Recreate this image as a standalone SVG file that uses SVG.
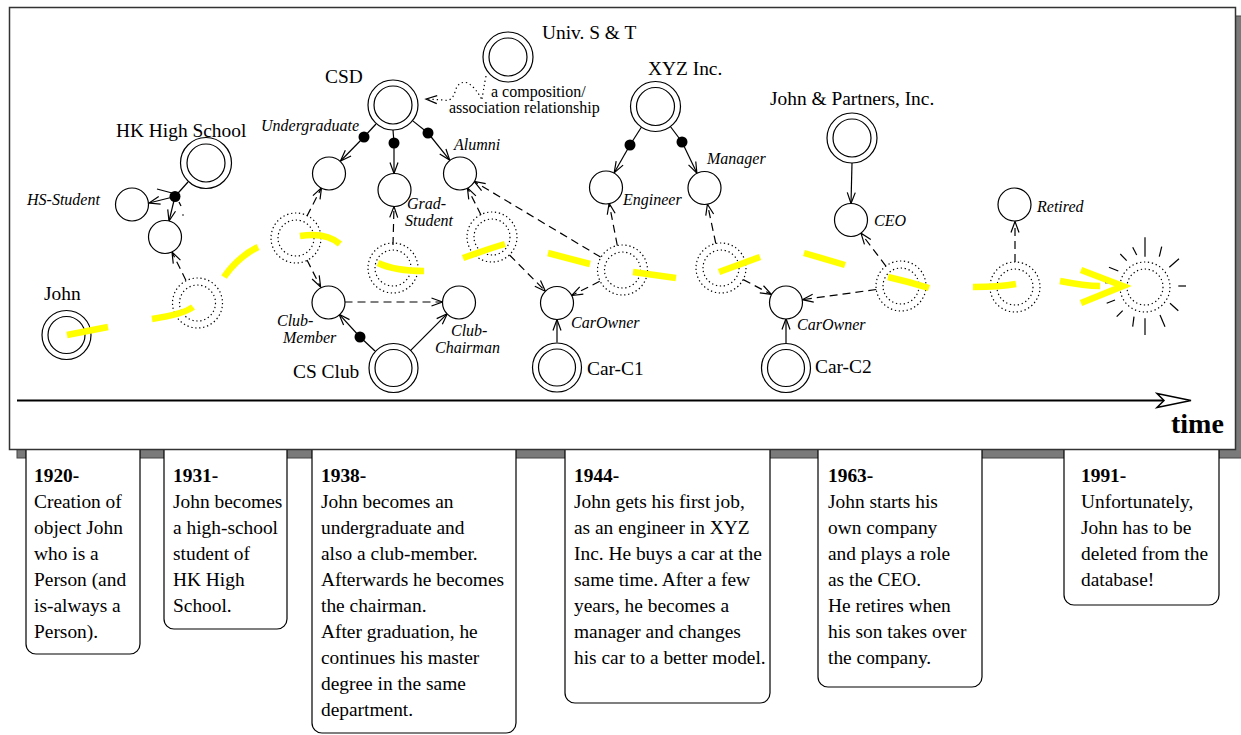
<svg xmlns="http://www.w3.org/2000/svg" width="1241" height="735" viewBox="0 0 1241 735">
<style>
.t{font-family:"Liberation Serif","Times New Roman",serif;font-size:19.4px;fill:#000}
.i{font-family:"Liberation Serif","Times New Roman",serif;font-size:16px;font-style:italic;fill:#000}
.s{font-family:"Liberation Serif","Times New Roman",serif;font-size:16px;fill:#000}
.b{font-weight:bold}
.obj circle{fill:#fff;stroke:#000;stroke-width:1.2}
.role circle{fill:#fff;stroke:#000;stroke-width:1.2}
.inst circle{fill:none;stroke:#000;stroke-width:1.2;stroke-dasharray:1.3 2.7}
.dot{fill:#000}
.ln{stroke:#000;stroke-width:1.2;fill:none}
.da{stroke:#000;stroke-width:1.2;fill:none;stroke-dasharray:8 5}
.ar{marker-end:url(#a)}
.ye{stroke:#ffff00;stroke-width:6.5;fill:none;stroke-linecap:butt}
.card{fill:#fff;stroke:#000;stroke-width:1.2}
</style>
<defs>
<marker id="a" markerUnits="userSpaceOnUse" viewBox="0 0 12 9" refX="11" refY="4.5" markerWidth="12" markerHeight="9" orient="auto" overflow="visible">
<path d="M0,0.5 L11,4.5 L0,8.5" fill="none" stroke="#000" stroke-width="1.2" stroke-dasharray="none"/>
</marker>
</defs>

<!-- frame shadow -->
<rect x="17" y="16" width="1230" height="442" fill="#7a7a7a" stroke="#444" stroke-width="1"/>

<!-- cards -->
<g id="cards">
<path class="card" d="M26,440 V644 A10,10 0 0 0 36,654 H130 A10,10 0 0 0 140,644 V440"/>
<path class="card" d="M164,440 V619 A10,10 0 0 0 174,629 H277 A10,10 0 0 0 287,619 V440"/>
<path class="card" d="M312,440 V723 A10,10 0 0 0 322,733 H506 A10,10 0 0 0 516,723 V440"/>
<path class="card" d="M565,440 V693 A10,10 0 0 0 575,703 H760 A10,10 0 0 0 770,693 V440"/>
<path class="card" d="M818,440 V677 A10,10 0 0 0 828,687 H972 A10,10 0 0 0 982,677 V440"/>
<path class="card" d="M1064,440 V595 A10,10 0 0 0 1074,605 H1209 A10,10 0 0 0 1219,595 V440"/>
</g>

<!-- frame -->
<rect x="9.5" y="7.5" width="1226" height="442" fill="#fff" stroke="#333" stroke-width="1.5"/>

<!-- card texts -->
<g id="card1" class="t">
<text x="34" y="481.7" class="t b">1920-</text>
<text x="34" y="507.7">Creation of</text>
<text x="34" y="533.7">object John</text>
<text x="34" y="559.7">who is a</text>
<text x="34" y="585.7">Person (and</text>
<text x="34" y="611.7">is-always a</text>
<text x="34" y="637.7">Person).</text>
</g>
<g id="card2" class="t">
<text x="173" y="481.7" class="t b">1931-</text>
<text x="173" y="507.7">John becomes</text>
<text x="173" y="533.7">a high-school</text>
<text x="173" y="559.7">student of</text>
<text x="173" y="585.7">HK High</text>
<text x="173" y="611.7">School.</text>
</g>
<g id="card3" class="t">
<text x="321" y="481.7" class="t b">1938-</text>
<text x="321" y="507.7">John becomes an</text>
<text x="321" y="533.7">undergraduate and</text>
<text x="321" y="559.7">also a club-member.</text>
<text x="321" y="585.7">Afterwards he becomes</text>
<text x="321" y="611.7">the chairman.</text>
<text x="321" y="637.7">After graduation, he</text>
<text x="321" y="663.7">continues his master</text>
<text x="321" y="689.7">degree in the same</text>
<text x="321" y="715.7">department.</text>
</g>
<g id="card4" class="t">
<text x="574" y="481.7" class="t b">1944-</text>
<text x="574" y="507.7">John gets his first job,</text>
<text x="574" y="533.7">as an engineer in XYZ</text>
<text x="574" y="559.7">Inc. He buys a car at the</text>
<text x="574" y="585.7">same time. After a few</text>
<text x="574" y="611.7">years, he becomes a</text>
<text x="574" y="637.7">manager and changes</text>
<text x="574" y="663.7">his car to a better model.</text>
</g>
<g id="card5" class="t">
<text x="828" y="481.7" class="t b">1963-</text>
<text x="828" y="507.7">John starts his</text>
<text x="828" y="533.7">own company</text>
<text x="828" y="559.7">and plays a role</text>
<text x="828" y="585.7">as the CEO.</text>
<text x="828" y="611.7">He retires when</text>
<text x="828" y="637.7">his son takes over</text>
<text x="828" y="663.7">the company.</text>
</g>
<g id="card6" class="t">
<text x="1081" y="481.7" class="t b">1991-</text>
<text x="1081" y="507.7">Unfortunately,</text>
<text x="1081" y="533.7">John has to be</text>
<text x="1081" y="559.7">deleted from the</text>
<text x="1081" y="585.7">database!</text>
</g>

<!-- time axis -->
<g id="axis">
<line x1="17" y1="400.5" x2="1163" y2="400.5" stroke="#000" stroke-width="2"/>
<polygon points="1157,393.5 1191,400.5 1157,407.5 1164,400.5" fill="#fff" stroke="#000" stroke-width="1.5"/>
<text x="1171" y="433" class="t b" style="font-size:28px">time</text>
</g>

<!-- connectors -->
<g id="connectors">
<!-- HK High School -->
<line class="ln" x1="188" y1="182" x2="175" y2="196.5"/>
<line class="ln ar" x1="175" y1="196.5" x2="149" y2="203"/>
<line class="ln ar" x1="175" y1="196.5" x2="169" y2="221"/>
<line class="ln" x1="157" y1="189" x2="172" y2="193"/>
<line class="ln" x1="179" y1="202" x2="181" y2="206"/>
<circle cx="183" cy="215" r="0.8" fill="#000"/>
<line class="da ar" x1="186" y1="280.5" x2="172" y2="252"/>
<!-- CSD -->
<line class="ln" x1="376" y1="124" x2="364" y2="137"/>
<line class="ln ar" x1="364" y1="137" x2="340.5" y2="161"/>
<line class="ln" x1="393" y1="130" x2="394" y2="143"/>
<line class="ln ar" x1="394" y1="143" x2="394" y2="173.5"/>
<line class="ln" x1="412.5" y1="120.6" x2="428" y2="133"/>
<line class="ln ar" x1="428" y1="133" x2="449.7" y2="160.1"/>
<!-- CS Club -->
<line class="ln" x1="375" y1="351" x2="360" y2="337"/>
<line class="ln ar" x1="360" y1="337" x2="339.1" y2="314.2"/>
<line class="ln ar" x1="410.7" y1="350.3" x2="447.3" y2="313.7"/>
<line class="da ar" x1="344.5" y1="302" x2="442.5" y2="302"/>
<!-- instance roles -->
<line class="da ar" x1="307" y1="216" x2="321.5" y2="187.7"/>
<line class="da ar" x1="307" y1="260" x2="320.6" y2="287"/>
<line class="da ar" x1="393" y1="245" x2="394" y2="206.5"/>
<line class="da ar" x1="481" y1="215" x2="467.4" y2="187.8"/>
<line class="da ar" x1="509.5" y1="255" x2="545.4" y2="291.2"/>
<line class="da ar" x1="600.5" y1="257" x2="474.2" y2="181.5"/>
<line class="da ar" x1="617.3" y1="245.5" x2="609.1" y2="203.2"/>
<line class="da ar" x1="599.7" y1="281.3" x2="571.7" y2="295.5"/>
<line class="ln ar" x1="557" y1="342.5" x2="557" y2="319.5"/>
<!-- XYZ -->
<line class="ln" x1="641.5" y1="127" x2="630" y2="145"/>
<line class="ln ar" x1="630" y1="145" x2="614.2" y2="172.7"/>
<line class="ln" x1="670" y1="126" x2="682" y2="142"/>
<line class="ln ar" x1="682" y1="142" x2="696.9" y2="173.1"/>
<line class="da ar" x1="715.8" y1="243.5" x2="707.4" y2="204.1"/>
<line class="da ar" x1="743.2" y1="279.6" x2="771.4" y2="294.4"/>
<line class="ln ar" x1="786" y1="343" x2="786" y2="318.5"/>
<line class="da ar" x1="876.2" y1="289.5" x2="802.3" y2="299.7"/>
<line class="da ar" x1="885.9" y1="266.1" x2="861" y2="233.2"/>
<line class="ln ar" x1="852" y1="163" x2="851" y2="203.5"/>
<line class="da ar" x1="1015" y1="262" x2="1015" y2="221.5"/>
<!-- composition / association -->
<path d="M486,76 Q483,92 482,100 Q476,88 468,83 Q458,80 455,92 Q452,102 444,100 L426,99" fill="none" stroke="#000" stroke-width="1.2" stroke-dasharray="1.3 3" marker-end="url(#a)"/>
</g>

<!-- black dots -->
<g id="dots">
<circle class="dot" cx="175" cy="196.5" r="5.5"/>
<circle class="dot" cx="364" cy="137" r="5.5"/>
<circle class="dot" cx="394" cy="143" r="5.5"/>
<circle class="dot" cx="428" cy="133" r="5.5"/>
<circle class="dot" cx="360" cy="337" r="5.5"/>
<circle class="dot" cx="630" cy="145" r="5.5"/>
<circle class="dot" cx="682" cy="142" r="5.5"/>
</g>

<!-- object nodes -->
<g id="john" class="obj"><circle cx="66.5" cy="335" r="24.5"/><circle cx="66.5" cy="335" r="18.5"/><text class="t" x="44" y="300">John</text></g>
<g id="hk" class="obj"><circle cx="206" cy="163" r="25.5"/><circle cx="206" cy="163" r="19"/><text class="t" x="116" y="137">HK High School</text></g>
<g id="csd" class="obj"><circle cx="393" cy="105" r="25"/><circle cx="393" cy="105" r="19"/><text class="t" x="325" y="83">CSD</text></g>
<g id="univ" class="obj"><circle cx="508" cy="57" r="25"/><circle cx="508" cy="57" r="19"/><text class="t" x="542" y="39">Univ. S &amp; T</text></g>
<g id="csclub" class="obj"><circle cx="393.5" cy="368" r="24.5"/><circle cx="393.5" cy="368" r="18.5"/><text class="t" x="293" y="378">CS Club</text></g>
<g id="xyz" class="obj"><circle cx="655.5" cy="106.5" r="25"/><circle cx="655.5" cy="106.5" r="19"/><text class="t" x="648" y="75">XYZ Inc.</text></g>
<g id="carc1" class="obj"><circle cx="557" cy="367.5" r="24.5"/><circle cx="557" cy="367.5" r="18.5"/><text class="t" x="587" y="375">Car-C1</text></g>
<g id="carc2" class="obj"><circle cx="786" cy="368" r="24.5"/><circle cx="786" cy="368" r="18.5"/><text class="t" x="815" y="373">Car-C2</text></g>
<g id="jp" class="obj"><circle cx="852" cy="138" r="25"/><circle cx="852" cy="138" r="19"/><text class="t" x="770" y="105">John &amp; Partners, Inc.</text></g>

<!-- role nodes -->
<g id="hsstudent" class="role"><circle cx="132" cy="204.5" r="16.5"/><text class="i" x="27" y="205">HS-Student</text></g>
<g id="hsstudent2" class="role"><circle cx="165" cy="237" r="16.5"/></g>
<g id="undergrad" class="role"><circle cx="329" cy="173.5" r="16.5"/><text class="i" x="261" y="131">Undergraduate</text></g>
<g id="gradstudent" class="role"><circle cx="394.5" cy="190" r="16.5"/><text class="i" x="407" y="209">Grad-</text><text class="i" x="405" y="226">Student</text></g>
<g id="alumni" class="role"><circle cx="460" cy="173.5" r="16.5"/><text class="i" x="454" y="150">Alumni</text></g>
<g id="clubmember" class="role"><circle cx="328.5" cy="302.5" r="16.5"/><text class="i" x="277" y="326">Club-</text><text class="i" x="283" y="343">Member</text></g>
<g id="clubchairman" class="role"><circle cx="459" cy="302.5" r="16.5"/><text class="i" x="451" y="336">Club-</text><text class="i" x="435" y="353">Chairman</text></g>
<g id="carowner1" class="role"><circle cx="557" cy="303" r="16.5"/><text class="i" x="571" y="328">CarOwner</text></g>
<g id="engineer" class="role"><circle cx="606" cy="187.5" r="16.5"/><text class="i" x="623" y="205">Engineer</text></g>
<g id="manager" class="role"><circle cx="704.5" cy="188" r="16.5"/><text class="i" x="707" y="164">Manager</text></g>
<g id="carowner2" class="role"><circle cx="786" cy="302.5" r="16.5"/><text class="i" x="797" y="330">CarOwner</text></g>
<g id="ceo" class="role"><circle cx="851" cy="220" r="16.5"/><text class="i" x="874" y="226">CEO</text></g>
<g id="retired" class="role"><circle cx="1014.5" cy="204.5" r="16.5"/><text class="i" x="1037" y="212">Retired</text></g>

<!-- instance (dotted) nodes -->
<g id="i1931" class="inst"><circle cx="197.5" cy="303" r="25"/><circle cx="197.5" cy="303" r="18"/></g>
<g id="i1938a" class="inst"><circle cx="296" cy="238" r="25"/><circle cx="296" cy="238" r="18"/></g>
<g id="i1938b" class="inst"><circle cx="393" cy="268" r="25"/><circle cx="393" cy="268" r="18"/></g>
<g id="i1938c" class="inst"><circle cx="492" cy="237" r="25"/><circle cx="492" cy="237" r="18"/></g>
<g id="i1944a" class="inst"><circle cx="622.5" cy="270" r="25"/><circle cx="622.5" cy="270" r="18"/></g>
<g id="i1944b" class="inst"><circle cx="721" cy="268" r="25"/><circle cx="721" cy="268" r="18"/></g>
<g id="i1963a" class="inst"><circle cx="901" cy="286" r="25"/><circle cx="901" cy="286" r="18"/></g>
<g id="i1963b" class="inst"><circle cx="1015" cy="287" r="25"/><circle cx="1015" cy="287" r="18"/></g>
<g id="i1991" class="inst"><circle cx="1145" cy="287" r="25"/><circle cx="1145" cy="287" r="18"/>
<g stroke="#000" stroke-width="1.2">
<line x1="1145" y1="237.3" x2="1145" y2="256.7"/>
<line x1="1132.7" y1="247.3" x2="1136.7" y2="255"/>
<line x1="1120.3" y1="254" x2="1126.7" y2="260.7"/>
<line x1="1109" y1="267.3" x2="1118.3" y2="271"/>
<line x1="1105" y1="282.7" x2="1110" y2="282.7"/>
<line x1="1106.7" y1="303.3" x2="1115" y2="300"/>
<line x1="1116.7" y1="316.7" x2="1122.7" y2="310.7"/>
<line x1="1132.7" y1="326.7" x2="1134" y2="316.7"/>
<line x1="1145" y1="318.3" x2="1145" y2="335"/>
<line x1="1160" y1="315" x2="1165" y2="326.7"/>
<line x1="1170" y1="303.3" x2="1178.3" y2="310.7"/>
<line x1="1178.3" y1="286" x2="1186" y2="286"/>
<line x1="1169.3" y1="267.3" x2="1179" y2="258.7"/>
<line x1="1159.3" y1="256.7" x2="1161.7" y2="246.7"/>
</g></g>

<!-- yellow lifeline (on top) -->
<g id="lifeline">
<path class="ye" d="M67,335 L108,327"/>
<path class="ye" d="M152,319 Q184,314 193,307"/>
<path class="ye" d="M224,277 Q238,257 258,247"/>
<path class="ye" d="M300,236 Q326,232 340,244"/>
<path class="ye" d="M378,263 Q395,271 424,271"/>
<path class="ye" d="M463,258 Q488,249 505,244"/>
<path class="ye" d="M548,253 L590,264"/>
<path class="ye" d="M633,272 Q655,275 676,278"/>
<path class="ye" d="M719,272 L760,257"/>
<path class="ye" d="M804,253 L845,265"/>
<path class="ye" d="M888,277 Q910,282 929,288"/>
<path class="ye" d="M973,287 Q1000,287 1016,284"/>
<path class="ye" d="M1060,281 Q1085,286 1100,286"/>
<path class="ye" d="M1081,270 L1123,286 L1081,303" stroke-linejoin="miter"/>
</g>

<!-- annotation -->
<g id="note">
<text class="s" x="491" y="97">a composition/</text>
<text class="s" x="449" y="113">association relationship</text>
</g>
</svg>
